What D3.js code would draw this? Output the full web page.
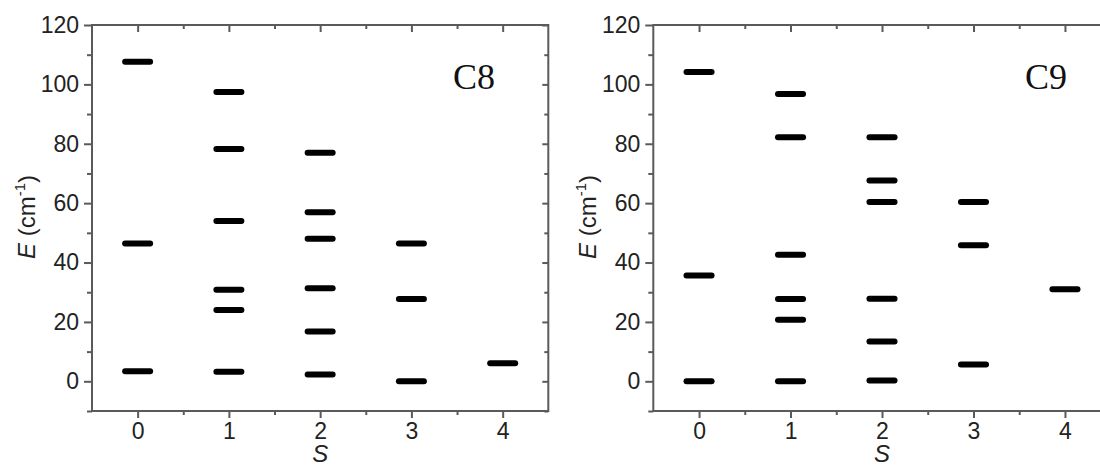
<!DOCTYPE html>
<html>
<head>
<meta charset="utf-8">
<script src="https://cdn.jsdelivr.net/npm/d3@7"></script>
<style>
  html, body { margin: 0; padding: 0; background: #fff; }
  svg { display: block; }
  .tick-label { font-family: "Liberation Sans", Arial, sans-serif; font-size: 23px; fill: #222; }
  .axis-title { font-family: "Liberation Sans", Arial, sans-serif; font-size: 24px; fill: #222; }
  .panel-name { font-family: "Liberation Serif", "Times New Roman", serif; font-size: 36px; fill: #111; }
</style>
</head>
<body>
<svg id="chart" width="1100" height="466"></svg>
<script>
// Spin quantum number S on the horizontal axis
const spinStates = [0, 1, 2, 3, 4];

// Energy levels E (cm^-1) for each S, cluster C8
const c8Levels = [
  [107.6, 46.4, 3.4],
  [97.4, 78.2, 54.0, 30.8, 24.0, 3.2],
  [77.0, 56.9, 48.0, 31.3, 16.8, 2.3],
  [46.4, 27.7, 0.0],
  [6.1]
];

// Energy levels E (cm^-1) for each S, cluster C9
const c9Levels = [
  [104.2, 35.6, 0.0],
  [96.8, 82.2, 42.6, 27.7, 20.7, 0.0],
  [82.2, 67.6, 60.4, 27.8, 13.4, 0.3],
  [60.4, 45.8, 5.7],
  [31.0]
];

const panelNames = ["C8", "C9"];
const yMajorTicks = [0, 20, 40, 60, 80, 100, 120];
const yMinorTicks = [-10, 10, 30, 50, 70, 90, 110];
const xMinorTicks = [0.5, 1.5, 2.5, 3.5];

const svg = d3.select("#chart");

const frameColor = "#5a5a5a";
const plotTop = 25, plotBottom = 411;
const panels = [
  { left: 92, right: 548.3, levels: c8Levels, name: panelNames[0], nameX: 474 },
  { left: 653.3, right: 1110.7, levels: c9Levels, name: panelNames[1], nameX: 1046 }
];

const y = d3.scaleLinear().domain([-10, 120]).range([plotBottom, plotTop]);
const halfWidth = 0.137; // half length of a level bar, in S units (caps add the rest)

function styleTicks(sel) {
  sel.select(".domain").remove();
  sel.selectAll(".tick line").attr("stroke", frameColor).attr("stroke-width", 2);
}

panels.forEach(p => {
  const x = d3.scaleLinear().domain([-0.5, 4.5]).range([p.left, p.right]);
  const g = svg.append("g");

  // Level bars
  const flat = [];
  p.levels.forEach((arr, i) => arr.forEach(e => flat.push({ s: spinStates[i], e })));
  g.selectAll("line.level").data(flat).enter().append("line")
    .attr("class", "level")
    .attr("x1", d => x(d.s - halfWidth))
    .attr("x2", d => x(d.s + halfWidth))
    .attr("y1", d => y(d.e))
    .attr("y2", d => y(d.e))
    .attr("stroke", "#000")
    .attr("stroke-width", 6)
    .attr("stroke-linecap", "round");

  // Left axis: outward ticks with labels
  const gl = g.append("g").attr("transform", `translate(${p.left},0)`)
    .call(d3.axisLeft(y).tickValues(yMajorTicks).tickSize(8).tickPadding(5).tickFormat(d3.format("d")))
    .call(styleTicks);
  gl.selectAll(".tick text").attr("class", "tick-label").attr("font-size", null).attr("font-family", null).attr("fill", null);
  g.append("g").attr("transform", `translate(${p.left},0)`)
    .call(d3.axisLeft(y).tickValues(yMinorTicks).tickSize(5).tickFormat(""))
    .call(styleTicks);

  // Right axis: inward ticks, no labels
  g.append("g").attr("transform", `translate(${p.right},0)`)
    .call(d3.axisLeft(y).tickValues(yMajorTicks).tickSize(6).tickFormat(""))
    .call(styleTicks);
  g.append("g").attr("transform", `translate(${p.right},0)`)
    .call(d3.axisLeft(y).tickValues(yMinorTicks).tickSize(4).tickFormat(""))
    .call(styleTicks);

  // Bottom axis: outward ticks with labels
  const gb = g.append("g").attr("transform", `translate(0,${plotBottom})`)
    .call(d3.axisBottom(x).tickValues(spinStates).tickSize(7).tickPadding(5).tickFormat(d3.format("d")))
    .call(styleTicks);
  gb.selectAll(".tick text").attr("class", "tick-label").attr("font-size", null).attr("font-family", null).attr("fill", null);
  g.append("g").attr("transform", `translate(0,${plotBottom})`)
    .call(d3.axisBottom(x).tickValues(xMinorTicks).tickSize(4).tickFormat(""))
    .call(styleTicks);

  // Top axis: inward ticks, no labels
  g.append("g").attr("transform", `translate(0,${plotTop})`)
    .call(d3.axisBottom(x).tickValues(spinStates).tickSize(7).tickFormat(""))
    .call(styleTicks);
  g.append("g").attr("transform", `translate(0,${plotTop})`)
    .call(d3.axisBottom(x).tickValues(xMinorTicks).tickSize(4).tickFormat(""))
    .call(styleTicks);

  // Frame
  g.append("rect")
    .attr("x", p.left).attr("y", plotTop)
    .attr("width", p.right - p.left).attr("height", plotBottom - plotTop)
    .attr("fill", "none").attr("stroke", frameColor).attr("stroke-width", 2);

  // Axis titles
  g.append("text").attr("class", "axis-title")
    .attr("x", (p.left + p.right) / 2).attr("y", 462)
    .attr("font-size", "19px")
    .attr("text-anchor", "middle").attr("font-style", "italic").text("S");

  const yt = g.append("text").attr("class", "axis-title")
    .attr("transform", `translate(${p.left - 57},${(plotTop + plotBottom) / 2 - 1}) rotate(-90)`)
    .attr("text-anchor", "middle");
  yt.append("tspan").attr("font-style", "italic").text("E");
  yt.append("tspan").text(" (cm");
  yt.append("tspan").attr("font-size", "15px").attr("dy", "-10").text("-1");
  yt.append("tspan").attr("dy", "10").text(")");

  // Cluster name
  g.append("text").attr("class", "panel-name")
    .attr("x", p.nameX).attr("y", 89)
    .attr("text-anchor", "middle").text(p.name);
});
</script>
</body>
</html>
